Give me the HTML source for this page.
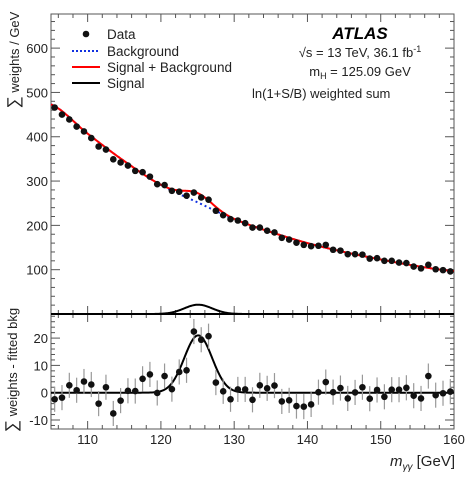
<!DOCTYPE html>
<html><head><meta charset="utf-8"><style>
html,body{margin:0;padding:0;background:#fff;}
svg{display:block;font-family:"Liberation Sans",sans-serif;}
</style></head><body>
<svg id="c" width="471" height="480" viewBox="0 0 471 480"></svg>
<script>
const binCenters=[105.5,106.5,107.5,108.5,109.5,110.5,111.5,112.5,113.5,114.5,115.5,116.5,117.5,118.5,119.5,120.5,121.5,122.5,123.5,124.5,125.5,126.5,127.5,128.5,129.5,130.5,131.5,132.5,133.5,134.5,135.5,136.5,137.5,138.5,139.5,140.5,141.5,142.5,143.5,144.5,145.5,146.5,147.5,148.5,149.5,150.5,151.5,152.5,153.5,154.5,155.5,156.5,157.5,158.5,159.5];
const dataValues=[466,450,439,423,412,397,378,371,349,342,335,323,320,310,293,291,278,276,267,274,263,258,233,223,214,211,205,195,195,188,184,172,168,161,156,153,154,156,145,143,135,135,134,125,126,120,120,116,115,107,103,111,101,99,96];
const residuals=[-2.4,-1.8,2.7,0.9,4.1,3.0,-4,2,-7.6,-2.9,0.7,0.6,5.1,6.7,-0.1,6.1,1.3,7.6,8.2,22.4,19.4,20.7,3.7,0.5,-2.4,1.2,1.2,-2.6,2.7,1.6,2.6,-3.2,-2.8,-4.9,-5.1,-4.3,0.2,3.9,0.2,1.7,-2.1,0.1,2,-2.2,1,-1.5,1.1,1.1,1.8,-1.1,-2.1,6.1,-0.9,-0.2,0.4];
const bkgX=[105,110,115,120,125,130,135,140,145,150,155,160];
const bkgValues=[473,407,345,291,252,214,185,160,140,123,108,97];
const signalParams={amp:21,mean:125.09,sigma:1.9};
const xTicks=[110,120,130,140,150,160];
const yTopTicks=[100,200,300,400,500,600];
const yBotTicks=[-10,0,10,20];

const NS="http://www.w3.org/2000/svg";
const svg=document.getElementById('c');
const L=51,R=454,T=14,M=314,B=429;
const xs=v=>L+(v-105)/(160-105)*(R-L);
const yt=v=>M-(v)/677*(M-T);
const yb=v=>392.7-v*2.73;
function el(tag,attrs,parent){const e=document.createElementNS(NS,tag);for(const k in attrs)e.setAttribute(k,attrs[k]);(parent||svg).appendChild(e);return e;}
function txt(s,x,y,attrs){const t=el('text',Object.assign({x:x,y:y,'font-size':13,fill:'#222'},attrs||{}));t.textContent=s;return t;}
function bkg(x){ // piecewise cubic (Catmull-Rom) through bkg array
  let i=Math.min(bkgX.length-2,Math.max(0,Math.floor((x-105)/5)));
  const p0=bkgValues[Math.max(0,i-1)],p1=bkgValues[i],p2=bkgValues[i+1],p3=bkgValues[Math.min(bkgX.length-1,i+2)];
  const t=(x-bkgX[i])/5;
  return 0.5*((2*p1)+(-p0+p2)*t+(2*p0-5*p1+4*p2-p3)*t*t+(-p0+3*p1-3*p2+p3)*t*t*t);
}
function sig(x){return signalParams.amp*Math.exp(-0.5*Math.pow((x-signalParams.mean)/signalParams.sigma,2));}

// frames
let f=el('rect',{x:L,y:T,width:R-L,height:B-T,fill:'none',stroke:'#555','stroke-width':1});

// ticks
const tk=el('g',{stroke:'#555','stroke-width':1});

for(let v=106;v<160;v+=2){const x=xs(v);const maj=v%10===0;const h=maj?8:4;
  el('line',{x1:x,y1:T,x2:x,y2:T+h},tk);el('line',{x1:x,y1:M,x2:x,y2:M-h},tk);el('line',{x1:x,y1:M,x2:x,y2:M+h},tk);el('line',{x1:x,y1:B,x2:x,y2:B-h},tk);}
for(let v=20;v<=660;v+=20){const y=yt(v);const h=v%100===0?9:4;el('line',{x1:L,y1:y,x2:L+h,y2:y},tk);el('line',{x1:R,y1:y,x2:R-h,y2:y},tk);}
for(let v=-12;v<=28;v+=2){const y=yb(v);const h=v%10===0?9:4;el('line',{x1:L,y1:y,x2:L+h,y2:y},tk);el('line',{x1:R,y1:y,x2:R-h,y2:y},tk);}
// tick labels
xTicks.forEach(v=>{const t=txt(String(v),xs(v),444,{'text-anchor':'middle'});});
yTopTicks.forEach(v=>{const t=txt(String(v),L-3,yt(v)+5,{'text-anchor':'end'});});
yBotTicks.forEach(v=>{const t=txt(String(v),L-3,yb(v)+5,{'text-anchor':'end'});});
// axis titles
let a=txt('',0,0,{transform:'translate(19,60) rotate(-90)','text-anchor':'middle','font-size':13});a.innerHTML='<tspan font-size="17">∑</tspan> weights / GeV';

a=txt('',0,0,{transform:'translate(17,370) rotate(-90)','text-anchor':'middle','font-size':13});a.innerHTML='<tspan font-size="17">∑</tspan> weights - fitted bkg';

a=txt('',455,466,{'text-anchor':'end','font-size':15});a.innerHTML='<tspan font-style="italic">m</tspan><tspan font-size="10" dy="4" font-style="italic">γγ</tspan><tspan dy="-4"> [GeV]</tspan>';


// curves
function path(fn,ys,x0,x1){let d='';for(let x=x0;x<=x1+1e-9;x+=0.1){d+=(d?'L':'M')+xs(x).toFixed(2)+','+ys(fn(x)).toFixed(2);}return d;}
const bg=el('path',{d:path(bkg,yt,105,160),fill:'none',stroke:'#1030e0','stroke-width':2,'stroke-dasharray':'2,3'});

const sb=el('path',{d:path(x=>bkg(x)+sig(x),yt,105,160),fill:'none',stroke:'#f00','stroke-width':2});

const st=el('path',{d:path(sig,yt,105,160),fill:'none',stroke:'#000','stroke-width':2});

const sbot=el('path',{d:path(sig,yb,105,160),fill:'none',stroke:'#000','stroke-width':2});


// data points
const dg=el('g',{});
binCenters.forEach((c,i)=>{const x=xs(c),y=yt(dataValues[i]);
  const p=el('circle',{cx:x,cy:y,r:3.3,fill:'#111'},dg);
  });
const rg=el('g',{});
binCenters.forEach((c,i)=>{const x=xs(c),y=yb(residuals[i]);
  el('line',{x1:x,y1:yb(residuals[i]+4.6),x2:x,y2:yb(residuals[i]-4.6),stroke:'#999','stroke-width':1.2},rg);
  const p=el('circle',{cx:x,cy:y,r:3.3,fill:'#111'},rg);
  });

// legend
const lg=el('g',{});
el('circle',{cx:86,cy:34,r:3.3,fill:'#111'},lg);el('line',{x1:86,y1:31,x2:86,y2:37,stroke:'#111'},lg);
el('line',{x1:72,y1:51,x2:100,y2:51,stroke:'#1030e0','stroke-width':2,'stroke-dasharray':'2,2'},lg);
el('line',{x1:72,y1:67,x2:100,y2:67,stroke:'#f00','stroke-width':2},lg);
el('line',{x1:72,y1:83,x2:100,y2:83,stroke:'#000','stroke-width':2},lg);
[['Data',39,'legend-entry-data'],['Background',56,'legend-entry-background'],['Signal + Background',72,'legend-entry-signal-background'],['Signal',88,'legend-entry-signal']].forEach(e=>{
  const t=txt(e[0],107,e[1],{'font-size':13.5});lg.appendChild(t);});

// annotations
a=txt('ATLAS',360,39,{'text-anchor':'middle','font-size':17,'font-weight':'bold','font-style':'italic',fill:'#000'});

a=txt('',360,57,{'text-anchor':'middle','font-size':13});a.innerHTML='√s = 13 TeV, 36.1 fb<tspan font-size="9" dy="-5">-1</tspan>';

a=txt('',360,76,{'text-anchor':'middle','font-size':13});a.innerHTML='m<tspan font-size="9" dy="3">H</tspan><tspan dy="-3"> = 125.09 GeV</tspan>';

a=txt('ln(1+S/B) weighted sum',252,98,{'font-size':13});

// panel divider
const dv=el('line',{x1:L,y1:M,x2:R,y2:M,stroke:'#000','stroke-width':2});

</script>
</body></html>
